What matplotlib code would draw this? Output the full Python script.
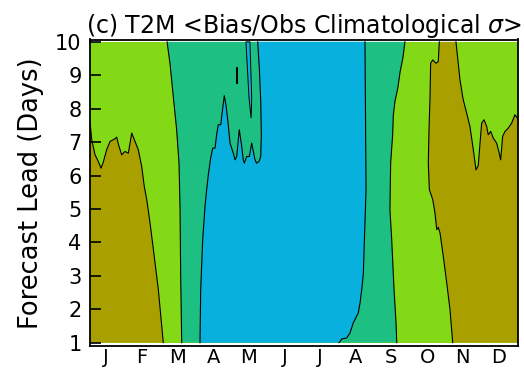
import numpy as np
import matplotlib
matplotlib.use('Agg')
import matplotlib.pyplot as plt

# --- colours of the four bias classes ---
C_OLIVE = '#a9a000'
C_LGREEN = '#84d916'
C_TEAL = '#1ebf82'
C_BLUE = '#08b0de'

MONTHS = ['J', 'F', 'M', 'A', 'M', 'J', 'J', 'A', 'S', 'O', 'N', 'D']
LEADS = [1, 2, 3, 4, 5, 6, 7, 8, 9, 10]

# contour boundaries (day of year, forecast lead)
# olive / light green, Jan-Feb
b1_day = [0, 1.5, 4.3, 7.1, 9.4, 11.3, 14.2, 17.1, 21.3, 22.8, 24.1, 27.0, 29.8,
          32.7, 35.6, 38.4, 41.2, 44.1, 46.3, 48.4, 51.2, 54.8, 58.3, 62.5]
b1_lead = [7.6, 7.07, 6.62, 6.42, 6.22, 6.4, 6.77, 7.02, 7.1, 7.15, 6.95, 6.62, 6.72,
           6.67, 7.27, 7.02, 6.77, 6.27, 5.67, 5.28, 4.58, 3.58, 2.58, 1.0]

# light green / teal, Mar (top to bottom)
b2_day = [65.7, 68.2, 71.0, 73.9, 75.9, 76.8, 77.3, 78.2]
b2_lead = [10.0, 9.36, 8.37, 7.37, 6.37, 4.98, 3.09, 1.0]

# teal / blue, Apr-May (bottom to top)
b3_day = [93.8, 94.4, 96.1, 98.1, 99.5, 100.9, 102.9, 104.6, 106.6, 108.0, 109.4,
          111.5, 113.2, 114.5, 116.0, 117.9, 119.4, 120.8, 122.2, 123.7, 125.1,
          127.3, 129.4, 130.7, 131.6, 133.6, 135.9, 137.9, 139.3, 140.7, 142.1,
          144.1, 145.6, 146.1, 145.6, 144.4, 143.0]
b3_lead = [1.0, 2.58, 4.08, 5.08, 5.58, 6.02, 6.52, 6.82, 6.82, 7.22, 7.52,
           7.52, 8.02, 8.39, 8.1, 7.52, 6.97, 6.82, 6.67, 6.47, 6.57,
           7.37, 6.87, 6.47, 6.37, 6.57, 6.57, 6.97, 6.72, 6.47, 6.37,
           6.42, 6.57, 7.22, 8.22, 9.21, 10.0]

# blue / teal, Aug (top to bottom)
b4_day = [234.5, 235.4, 234.5, 233.1, 232.6, 231.7, 230.3, 228.8, 224.5, 221.7,
          218.9, 214.6, 213.2, 212.3]
b4_lead = [10.0, 5.58, 4.58, 3.08, 2.88, 2.58, 2.19, 1.89, 1.59, 1.29,
           1.14, 1.11, 1.03, 1.0]

# teal / light green, Sep (top to bottom)
b5_day = [268.6, 266.8, 264.5, 262.5, 260.1, 258.7, 258.1, 256.4, 255.8, 257.3,
          259.3, 261.0, 261.6]
b5_lead = [10.0, 9.51, 9.11, 8.62, 8.22, 7.82, 7.22, 6.37, 4.98, 4.08,
           2.58, 1.59, 1.0]

# light green / olive, Oct-Nov, west side (bottom to top)
b6w_day = [309.3, 307.0, 304.2, 301.3, 298.5, 297.0, 295.7, 294.2, 292.3, 289.4,
           288.5, 289.1, 290.0, 290.5, 292.3, 295.1, 297.0, 297.9]
b6w_lead = [1.0, 1.99, 2.79, 3.58, 4.28, 4.45, 4.38, 4.88, 5.28, 5.58,
            6.37, 7.37, 8.37, 9.36, 9.46, 9.36, 9.41, 10.0]

# olive / light green, Nov-Dec, east side (top to right edge)
b6e_day = [312.1, 315.5, 317.8, 318.3, 321.2, 324.0, 326.9, 329.2, 331.1, 334.0,
           336.0, 338.3, 339.6, 341.7, 343.9, 346.8, 349.0, 350.2, 351.9, 353.9,
           356.7, 359.6, 362.4, 363.9, 365.0]
b6e_lead = [10.0, 8.87, 8.37, 8.27, 7.87, 7.47, 6.77, 6.17, 6.3, 7.57,
            7.67, 7.47, 7.22, 7.32, 7.12, 6.97, 6.67, 6.47, 7.17, 7.32,
            7.42, 7.57, 7.82, 7.75, 7.67]

# thin blue wedge and sliver near the top in May
wedge_day = [133.0, 136.4, 137.9, 137.4, 135.6]
wedge_lead = [10.0, 10.0, 8.33, 7.72, 8.33]
sliver_day = [124.9, 125.3, 125.3, 124.9]
sliver_lead = [9.26, 9.26, 8.77, 8.77]

fig = plt.figure(figsize=(5.24, 3.68), dpi=100)
ax = fig.add_axes([90 / 524, 22 / 368, 428 / 524, 306.5 / 368])

# background class
ax.fill_between([0, 365], 1, 10, color=C_LGREEN, lw=0)

# olive, Jan-Mar
ax.fill(b1_day + [0], b1_lead + [1.0], color=C_OLIVE, lw=0)
# olive, Oct-Dec
ax.fill(b6w_day + b6e_day + [365.0], b6w_lead + b6e_lead + [1.0], color=C_OLIVE, lw=0)
# teal, Mar-Sep
ax.fill(b2_day + b5_day[::-1], b2_lead + b5_lead[::-1], color=C_TEAL, lw=0)
# blue, Apr-Aug
ax.fill(b3_day + b4_day, b3_lead + b4_lead, color=C_BLUE, lw=0)
ax.fill(wedge_day, wedge_lead, color=C_BLUE, ec='k', lw=0.7)
ax.fill(sliver_day, sliver_lead, color=C_BLUE, ec='k', lw=0.7)

# contour lines
for xs, ys in [(b1_day, b1_lead), (b2_day, b2_lead), (b3_day, b3_lead),
               (b4_day, b4_lead), (b5_day, b5_lead), (b6w_day, b6w_lead),
               (b6e_day, b6e_lead)]:
    ax.plot(xs, ys, color='k', lw=0.8)

ax.set_xlim(0, 365)
ax.set_ylim(0.90, 10.07)

ax.set_yticks(LEADS)
ax.set_yticklabels([str(v) for v in LEADS], fontsize=15)
ax.tick_params(axis='y', direction='in', length=8, width=1.2, pad=6)

mid = (np.arange(12) + 0.5) * 365 / 12 - 1.5
ax.set_xticks(mid)
ax.set_xticklabels(MONTHS, fontsize=14)
ax.tick_params(axis='x', length=0, pad=1.5)

for s in ax.spines.values():
    s.set_linewidth(1.3)

ax.set_ylabel('Forecast Lead (Days)', fontsize=18.5, labelpad=8)
ax.set_title(r'(c) T2M <Bias/Obs Climatological $\sigma$>', fontsize=17, pad=4)

fig.savefig('out.png', dpi=100)
